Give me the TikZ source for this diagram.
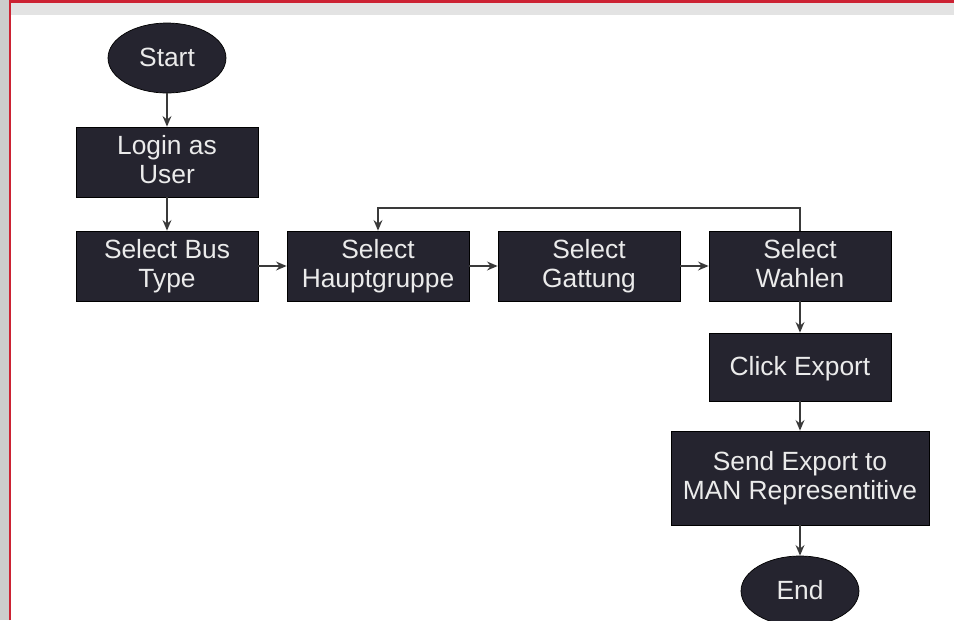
\documentclass[tikz,border=0pt]{standalone}
\usepackage{fontspec}
\setmainfont{Liberation Sans}
\usepackage{xcolor}
\usepackage{tikz}
\usetikzlibrary{arrows.meta,shapes.geometric}

\definecolor{boxfill}{HTML}{25242F}
\definecolor{linegray}{HTML}{3A3A3A}
\definecolor{framered}{HTML}{CC2233}

\tikzset{
  stepbox/.style={draw=black, fill=boxfill, text=white!92!black, minimum width=3.64cm,
    minimum height=1.4cm, align=center, font=\fontsize{15}{16.6}\selectfont,
    execute at begin node=\vphantom{\"A}, execute at end node=\vphantom{g}},
  terminal/.style={stepbox, ellipse, minimum width=2.36cm, minimum height=1.4cm,
    execute at end node={}},
  flow/.style={draw=linegray, line width=1.2pt, -{Stealth[length=6pt,width=5pt]}}
}

\begin{document}
\begin{tikzpicture}[x=0.02cm, y=-0.02cm]
    \useasboundingbox (0,0) rectangle (954,620);
    % window frame
    \fill[black!20] (0,0) rectangle (9,620);
    \fill[black!11] (10,3) rectangle (954,15);
    \draw[framered, line width=1.5pt] (10,620) -- (10,1.5) -- (954,1.5);

    \node[terminal] (start) at (167,58) {Start};
    \node[stepbox] (login) at (167,162) {Login as\\User};
    \node[stepbox] (bus) at (167,266) {Select Bus\\Type};
    \node[stepbox] (haupt) at (378,266) {Select\\Hauptgruppe};
    \node[stepbox] (gattung) at (589,266) {Select\\Gattung};
    \node[stepbox] (wahlen) at (800,266) {Select\\Wahlen};
    \node[stepbox, minimum height=1.36cm] (export) at (800,367) {Click Export};
    \node[stepbox, minimum width=5.16cm, minimum height=1.88cm] (send) at (800,478) {Send Export to\\MAN Representitive};
    \node[terminal] (end) at (800,591) {End};

    \draw[flow] (start) -- (login);
    \draw[flow] (login) -- (bus);
    \draw[flow] (bus) -- (haupt);
    \draw[flow] (haupt) -- (gattung);
    \draw[flow] (gattung) -- (wahlen);
    \draw[flow] (wahlen) -- (export);
    \draw[flow] (export) -- (send);
    \draw[flow] (send) -- (end);
    % loop back
    \draw[flow] (wahlen.north) -- ++(0,-23) -| (haupt.north);
\end{tikzpicture}
\end{document}
